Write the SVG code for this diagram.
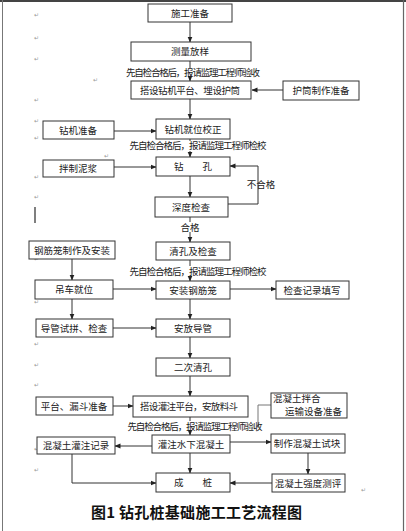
<svg xmlns="http://www.w3.org/2000/svg" width="406" height="531" viewBox="0 0 406 531">
<defs>
<marker id="ah" markerWidth="6" markerHeight="6" refX="5.5" refY="3" orient="auto" markerUnits="userSpaceOnUse">
<path d="M0,0.5 L6,3 L0,5.5 Z" fill="#222"/>
</marker>
<style>
.b{fill:#fff;stroke:#333;stroke-width:1}
.t{font-family:"Noto Sans CJK SC","Noto Sans CJK JP",sans-serif;font-size:9.5px;fill:#222;text-anchor:middle}
.n{font-family:"Noto Sans CJK SC","Noto Sans CJK JP",sans-serif;font-size:9.5px;fill:#222}
.c{fill:none;stroke:#333;stroke-width:1}
.a{marker-end:url(#ah)}
.m{font-family:"DejaVu Sans",sans-serif;font-size:6px;fill:#999}
</style>
</defs>
<rect x="0" y="0" width="406" height="531" fill="#fff"/>
<line x1="0" y1="1" x2="406" y2="1" stroke="#444" stroke-width="2"/>
<line x1="2.5" y1="0" x2="2.5" y2="531" stroke="#777" stroke-width="1"/>
<line x1="403.5" y1="0" x2="403.5" y2="531" stroke="#666" stroke-width="1.2"/>
<line x1="35" y1="207" x2="35" y2="223" stroke="#555" stroke-width="1.5"/>
<g id="marks">
<text class="m" x="34" y="17">↵</text><text class="m" x="34" y="40">↵</text><text class="m" x="34" y="61">↵</text>
<text class="m" x="93" y="82">↵</text><text class="m" x="34" y="102">↵</text><text class="m" x="34" y="123">↵</text>
<text class="m" x="34" y="140">↵</text><text class="m" x="104" y="158">↵</text><text class="m" x="34" y="179">↵</text>
<text class="m" x="34" y="199">↵</text><text class="m" x="34" y="261">↵</text><text class="m" x="34" y="304">↵</text>
<text class="m" x="34" y="346">↵</text><text class="m" x="34" y="367">↵</text><text class="m" x="34" y="387">↵</text>
<text class="m" x="34" y="451">↵</text><text class="m" x="34" y="472">↵</text><text class="m" x="361" y="492">↵</text>
</g>
<g id="connectors">
<line class="c a" x1="190" y1="22" x2="190" y2="42"/>
<line class="c" x1="190" y1="61" x2="190" y2="68"/>
<line class="c a" x1="190" y1="76" x2="190" y2="81"/>
<line class="c a" x1="283" y1="90" x2="252" y2="90"/>
<line class="c a" x1="190" y1="99" x2="190" y2="119"/>
<line class="c a" x1="114" y1="131" x2="156" y2="131"/>
<line class="c" x1="190" y1="139" x2="190" y2="141"/>
<line class="c a" x1="190" y1="151" x2="190" y2="157"/>
<line class="c a" x1="114" y1="167" x2="156" y2="167"/>
<line class="c a" x1="190" y1="176" x2="190" y2="197"/>
<polyline class="c a" points="228,204 258,204 258,166 230,166"/>
<line class="c" x1="190" y1="217" x2="190" y2="222"/>
<line class="c a" x1="190" y1="232" x2="190" y2="242"/>
<line class="c a" x1="72" y1="259" x2="72" y2="280"/>
<line class="c" x1="190" y1="260" x2="190" y2="266"/>
<line class="c a" x1="190" y1="277" x2="190" y2="281"/>
<line class="c a" x1="113" y1="289" x2="156" y2="289"/>
<line class="c a" x1="230" y1="289" x2="276" y2="289"/>
<line class="c a" x1="72" y1="299" x2="72" y2="319"/>
<line class="c a" x1="190" y1="299" x2="190" y2="319"/>
<line class="c a" x1="113" y1="328" x2="156" y2="328"/>
<line class="c a" x1="190" y1="337" x2="190" y2="358"/>
<line class="c a" x1="190" y1="376" x2="190" y2="396"/>
<line class="c a" x1="113" y1="406" x2="133" y2="406"/>
<polyline points="271,405 258,405 258,428" fill="none" stroke="#777" stroke-width="1"/>
<line class="c" x1="190" y1="417" x2="190" y2="421"/>
<line class="c a" x1="190" y1="432" x2="190" y2="435"/>
<line class="c a" x1="152" y1="446" x2="115" y2="446"/>
<line class="c a" x1="230" y1="442" x2="271" y2="442"/>
<line class="c a" x1="308" y1="453" x2="308" y2="474"/>
<line class="c a" x1="190" y1="453" x2="190" y2="473"/>
<polyline class="c a" points="72,454 72,483 156,483"/>
<line class="c a" x1="272" y1="483" x2="230" y2="483"/>
</g>
<g id="n1"><rect class="b" x="148" y="4" width="84" height="18"/><text class="t" x="190" y="16.5">施工准备</text></g>
<g id="n2"><rect class="b" x="131" y="42" width="120" height="19"/><text class="t" x="190" y="55">测量放样</text></g>
<text class="t" x="193" y="76" textLength="134">先自检合格后，报请监理工程师验收</text>
<g id="n3"><rect class="b" x="131" y="81" width="120" height="18"/><text class="t" x="190" y="93.5" textLength="100">搭设钻机平台、埋设护筒</text></g>
<g id="n4"><rect class="b" x="283" y="81" width="76" height="19"/><text class="t" x="321" y="94">护筒制作准备</text></g>
<g id="n5"><rect class="b" x="43" y="121" width="71" height="18"/><text class="t" x="78" y="133.5">钻机准备</text></g>
<g id="n6"><rect class="b" x="156" y="119" width="74" height="20"/><text class="t" x="193" y="132.5">钻机就位校正</text></g>
<text class="t" x="198" y="149" textLength="137">先自检合格后，报请监理工程师检校</text>
<g id="n7"><rect class="b" x="43" y="160" width="71" height="17"/><text class="t" x="78" y="172">拌制泥浆</text></g>
<g id="n8"><rect class="b" x="156" y="157" width="74" height="19"/><text class="t" x="193" y="170">钻　　孔</text></g>
<text class="t" x="261" y="187.5">不合格</text>
<g id="n9"><rect class="b" x="155" y="197" width="73" height="20"/><text class="t" x="191" y="210.5">深度检查</text></g>
<text class="t" x="190" y="230.5">合格</text>
<g id="n10"><rect class="b" x="29" y="241" width="86" height="18"/><text class="t" x="72" y="253.5">钢筋笼制作及安装</text></g>
<g id="n11"><rect class="b" x="156" y="242" width="74" height="18"/><text class="t" x="193" y="254.5">清孔及检查</text></g>
<text class="t" x="198" y="275" textLength="137">先自检合格后，报请监理工程师检校</text>
<g id="n12"><rect class="b" x="35" y="280" width="78" height="19"/><text class="t" x="74" y="293">吊车就位</text></g>
<g id="n13"><rect class="b" x="156" y="281" width="74" height="18"/><text class="t" x="193" y="293.5">安装钢筋笼</text></g>
<g id="n14"><rect class="b" x="276" y="281" width="73" height="18"/><text class="t" x="312" y="293.5">检查记录填写</text></g>
<g id="n15"><rect class="b" x="36" y="319" width="77" height="18"/><text class="t" x="74" y="331.5">导管试拼、检查</text></g>
<g id="n16"><rect class="b" x="156" y="319" width="74" height="18"/><text class="t" x="193" y="331.5">安放导管</text></g>
<g id="n17"><rect class="b" x="156" y="358" width="74" height="18"/><text class="t" x="193" y="370.5">二次清孔</text></g>
<g id="n18"><rect class="b" x="36" y="397" width="77" height="18"/><text class="t" x="74" y="409.5">平台、漏斗准备</text></g>
<g id="n19"><rect class="b" x="133" y="396" width="115" height="21"/><text class="t" x="189" y="410" textLength="98">搭设灌注平台，安放料斗</text></g>
<g id="n20"><rect class="b" x="271" y="393" width="76" height="25"/><text class="n" x="273" y="402">混凝土拌合</text><text class="n" x="342" y="415" text-anchor="end">运输设备准备</text></g>
<text class="t" x="195" y="430" textLength="135">先自检合格后，报请监理工程师验收</text>
<g id="n21"><rect class="b" x="37" y="437" width="78" height="17"/><text class="t" x="76" y="449">混凝土灌注记录</text></g>
<g id="n22"><rect class="b" x="152" y="435" width="78" height="18"/><text class="t" x="191" y="447.5">灌注水下混凝土</text></g>
<g id="n23"><rect class="b" x="271" y="434" width="74" height="19"/><text class="t" x="307" y="447">制作混凝土试块</text></g>
<g id="n24"><rect class="b" x="156" y="473" width="74" height="19"/><text class="t" x="193" y="486">成　　桩</text></g>
<g id="n25"><rect class="b" x="272" y="474" width="73" height="18"/><text class="t" x="308" y="486.5">混凝土强度测评</text></g>
<text x="91" y="518" font-family="'Noto Sans CJK SC',sans-serif" font-size="15" font-weight="bold" fill="#111" textLength="211">图1  钻孔桩基础施工工艺流程图</text>
</svg>
